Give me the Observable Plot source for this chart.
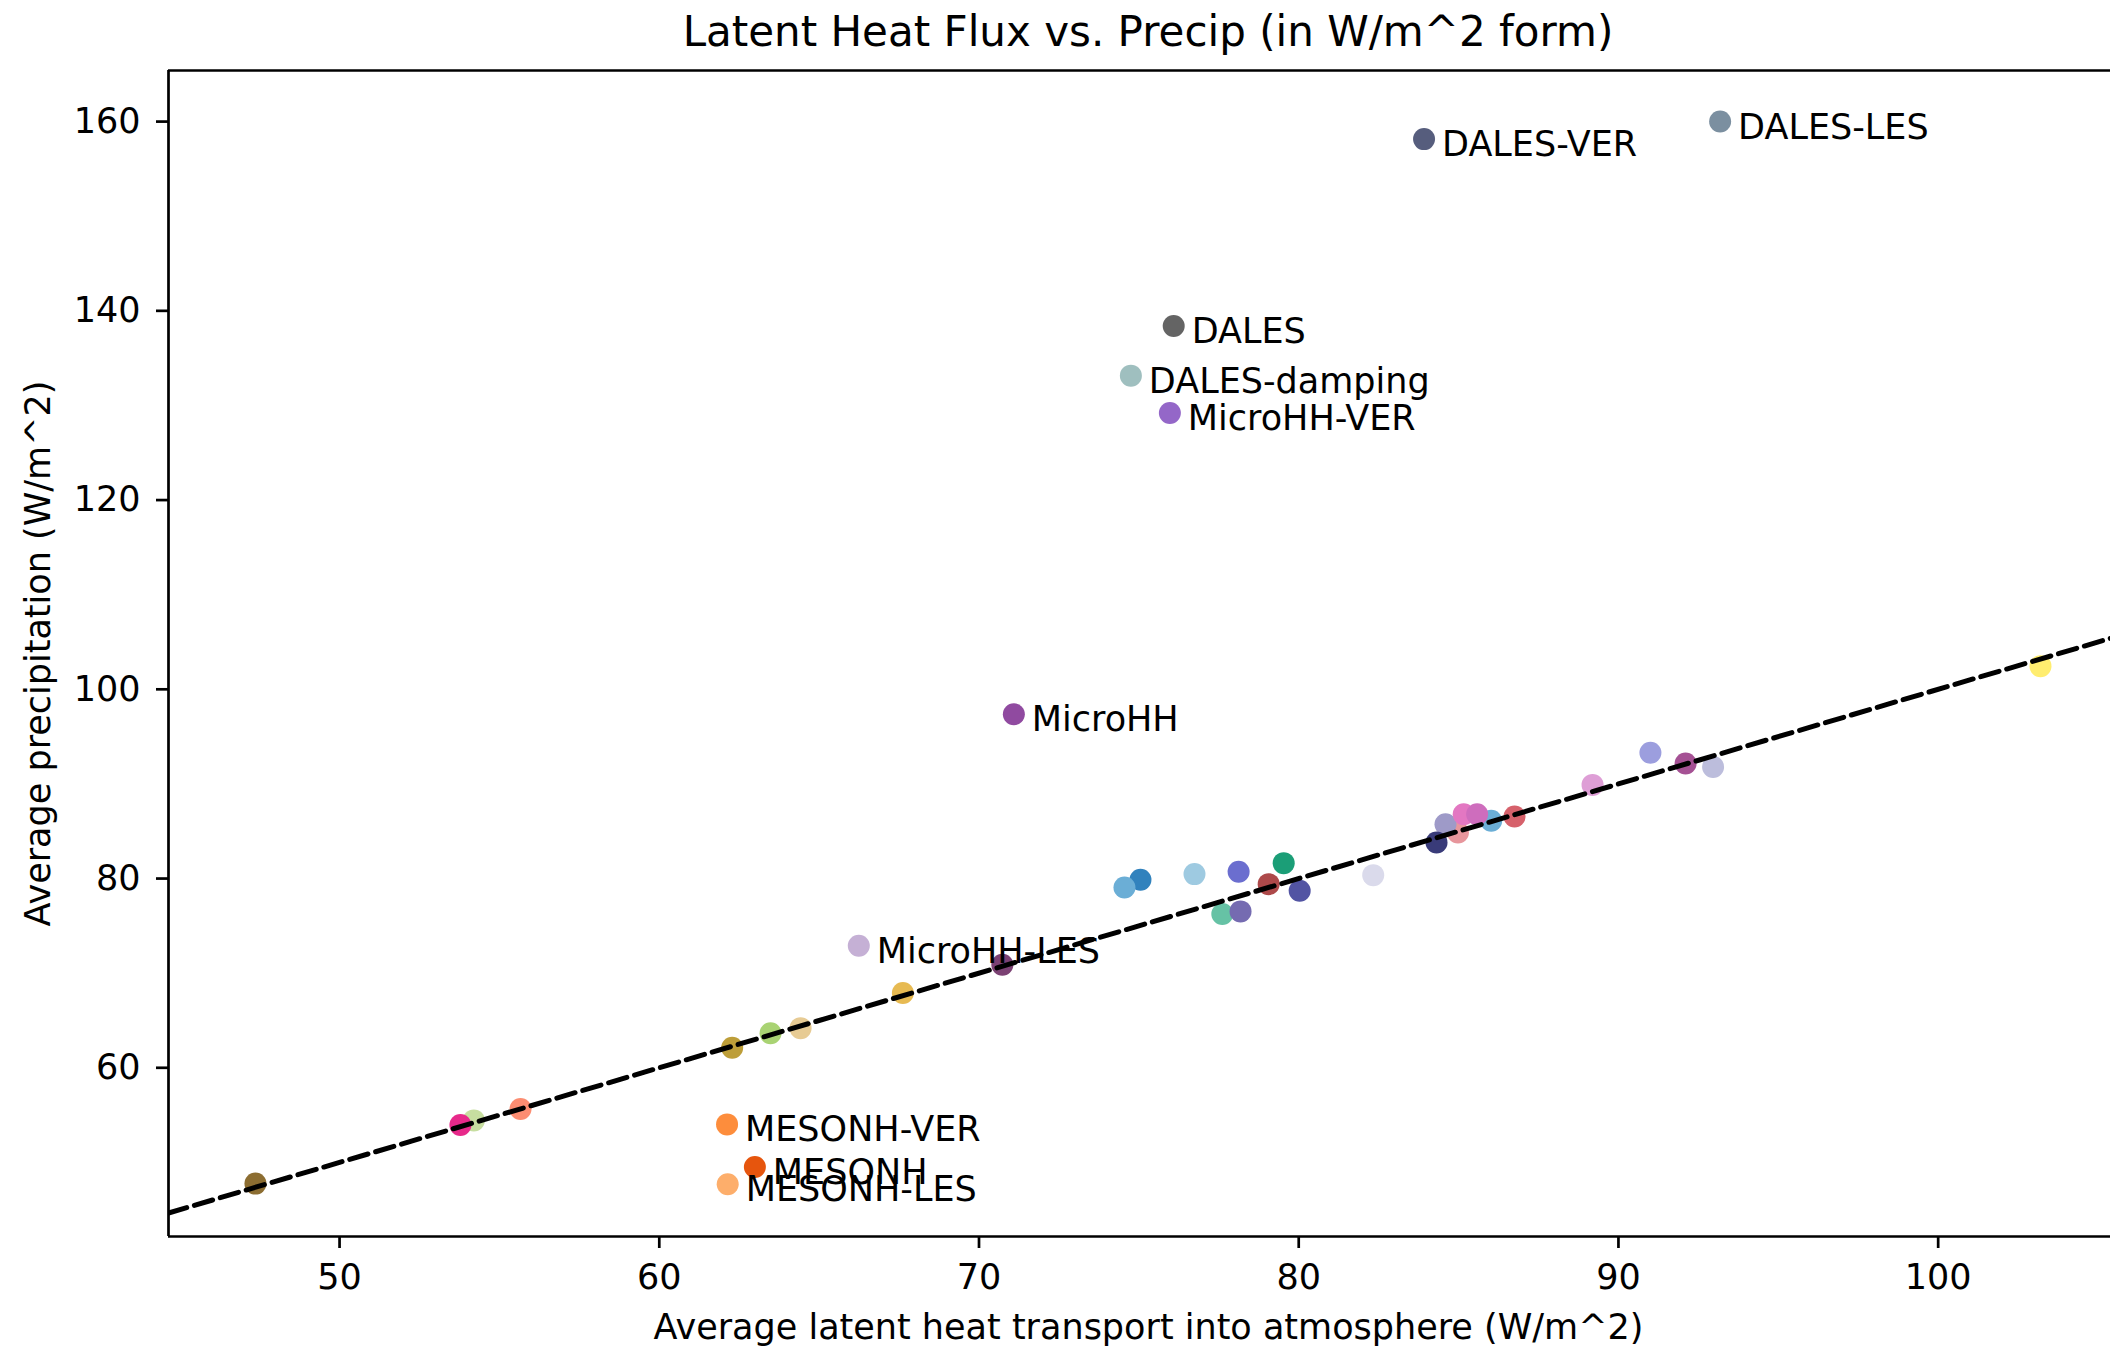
<!DOCTYPE html>
<html>
<head>
<meta charset="utf-8">
<script src="https://cdn.jsdelivr.net/npm/d3@7"></script>
<script src="https://cdn.jsdelivr.net/npm/@observablehq/plot@0.6"></script>
<style>
  html, body { margin: 0; padding: 0; background: #fff; }
  #wrap { position: relative; width: 2110px; height: 1349px; overflow: hidden; font-family: "DejaVu Sans", sans-serif; }
  #title { position: absolute; top: 0; left: 1148px; transform: translateX(-50%); height: 68px; line-height: 64px; font-size: 42px; color: #000; white-space: nowrap; }
  #chart { position: absolute; top: 68px; left: 0; }
</style>
</head>
<body>
<div id="wrap">
  <div id="title"></div>
  <div id="chart"></div>
</div>
<script>
const titleText = "Latent Heat Flux vs. Precip (in W/m^2 form)";
const xLabel = "Average latent heat transport into atmosphere (W/m^2)";
const yLabel = "Average precipitation (W/m^2)";

const xTicks = [50, 60, 70, 80, 90, 100];
const yTicks = [60, 80, 100, 120, 140, 160];
const xDomain = [44.65, 105.39];
const yDomain = [42.17, 165.4];

// Labelled models
const labeledNames  = ["DALES-VER", "DALES-LES", "DALES", "DALES-damping", "MicroHH-VER", "MicroHH", "MicroHH-LES", "MESONH-VER", "MESONH-LES", "MESONH"];
const labeledX      = [83.92, 93.18, 76.09, 74.75, 75.97, 71.09, 66.24, 62.12, 62.14, 62.99];
const labeledY      = [158.15, 160.0, 138.4, 133.15, 129.2, 97.36, 72.9, 54.02, 47.69, 49.52];
const labeledColors = ["#565d7d", "#7b8fa0", "#646464", "#9fbfbf", "#9467c8", "#904aa0", "#c5b0d5", "#fd8d3c", "#fdae6b", "#e6550d"];

// Unlabelled models
const otherX = [47.37, 54.2, 53.78, 55.66, 62.28, 63.48, 64.42, 67.62, 70.73, 75.05, 74.55, 76.74, 78.12, 77.61, 78.18, 79.53, 79.06, 80.03, 82.33, 84.98, 84.59, 84.31, 86.02, 85.16, 85.58, 86.75, 89.19, 91.0, 92.1, 92.96, 103.2];
const otherY = [47.76, 54.44, 53.95, 55.65, 62.11, 63.66, 64.19, 67.91, 70.9, 79.87, 79.06, 80.47, 80.71, 76.25, 76.53, 81.63, 79.41, 78.71, 80.36, 84.86, 85.74, 83.81, 86.1, 86.8, 86.8, 86.56, 89.9, 93.3, 92.15, 91.8, 102.45];
const otherColors = ["#8c6d31", "#c7dea0", "#e7298a", "#fc8d72", "#bd9e39", "#a9d373", "#e7cb94", "#e7ba52", "#7b4173", "#3182bd", "#6baed6", "#9ecae1", "#6b6ecf", "#66c2a5", "#756bb1", "#1b9e77", "#ad494a", "#5254a3", "#dadaeb", "#e7969c", "#9e9ac8", "#393b79", "#6baed6", "#e377c2", "#ce6dbd", "#d6616b", "#de9ed6", "#9c9ede", "#a55194", "#bcbddc", "#ffed6f"];

const labeled = labeledNames.map((name, i) => ({name, x: labeledX[i], y: labeledY[i], color: labeledColors[i]}));
const others = otherX.map((x, i) => ({x, y: otherY[i], color: otherColors[i]}));
// 1:1 reference line across the x extent
const refLine = xDomain.map(v => ({x: v, y: v}));

document.getElementById("title").textContent = titleText;

const chart = Plot.plot({
  width: 2110,
  height: 1281,
  marginLeft: 168,
  marginRight: 0,
  marginTop: 2,
  marginBottom: 113,
  style: {fontFamily: "DejaVu Sans, sans-serif", fontSize: "35px", color: "#000", background: "#fff", overflow: "visible"},
  x: {domain: xDomain},
  y: {domain: yDomain},
  color: {type: "identity"},
  marks: [
    Plot.dot(others, {x: "x", y: "y", fill: "color", r: 11, stroke: null}),
    Plot.dot(labeled, {x: "x", y: "y", fill: "color", r: 11, stroke: null}),
    Plot.line(refLine, {x: "x", y: "y", stroke: "#000", strokeWidth: 5, strokeDasharray: "19,8", clip: true}),
    Plot.text(labeled, {x: "x", y: "y", text: "name", textAnchor: "start", lineAnchor: "bottom", dx: 18, dy: 17, fontSize: 35, fill: "#000"}),
    Plot.ruleX([xDomain[0]], {stroke: "#000", strokeWidth: 2.7}),
    Plot.ruleY(yDomain, {stroke: "#000", strokeWidth: 2.7}),
    Plot.axisX({ticks: xTicks, tickSize: 12, tickPadding: 16, tickFormat: d => String(d), label: null, fontSize: 35, strokeWidth: 2.7, fill: "#000"}),
    Plot.axisY({ticks: yTicks, tickSize: 12, tickPadding: 16, tickFormat: d => String(d), label: null, fontSize: 35, strokeWidth: 2.7, fill: "#000"}),
    Plot.text([xLabel], {frameAnchor: "bottom", text: d => d, textAnchor: "middle", dx: 9, dy: 91, lineAnchor: "middle", fontSize: 35, fill: "#000"}),
    Plot.text([yLabel], {frameAnchor: "left", text: d => d, textAnchor: "middle", rotate: -90, dx: -130, lineAnchor: "middle", fontSize: 35, fill: "#000"})
  ]
});
document.getElementById("chart").appendChild(chart);
</script>
</body>
</html>
